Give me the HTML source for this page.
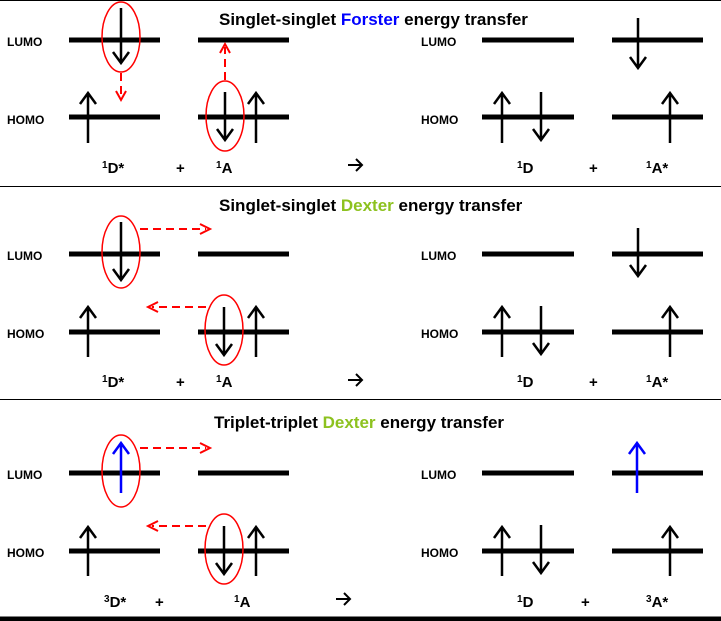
<!DOCTYPE html>
<html><head><meta charset="utf-8"><style>
html,body{margin:0;padding:0;background:#fff;width:721px;height:621px;overflow:hidden}
text{font-family:"Liberation Sans",sans-serif;font-weight:bold}
.l{stroke:#000;stroke-width:5}
.a{stroke:#000;stroke-width:2.5;fill:none}
.b{stroke:#0000ff;stroke-width:2.5;fill:none}
.r{stroke:#ff0000;stroke-width:1.5;fill:none}
.d{stroke:#ff0000;stroke-width:2;fill:none;stroke-dasharray:8,5}
.h{stroke:#ff0000;stroke-width:2;fill:none}
.k{stroke:#000;stroke-width:2;fill:none}
.lb{font-size:12px}
.t{font-size:17px}
.s{font-size:15px}
</style></head><body>
<svg width="721" height="621" xmlns="http://www.w3.org/2000/svg">
<line x1="0" y1="0.5" x2="721" y2="0.5" stroke="#000" stroke-width="1"/>
<line x1="0" y1="186.5" x2="721" y2="186.5" stroke="#000" stroke-width="1"/>
<line x1="0" y1="399.5" x2="721" y2="399.5" stroke="#000" stroke-width="1"/>
<line x1="0" y1="619" x2="721" y2="619" stroke="#000" stroke-width="5"/>

<!-- Panel 1 -->
<text x="219" y="25" class="t">Singlet-singlet <tspan fill="#0000ff">Forster</tspan> energy transfer</text>
<text x="7" y="46" class="lb">LUMO</text><text x="7" y="124" class="lb">HOMO</text>
<text x="421" y="46" class="lb">LUMO</text><text x="421" y="124" class="lb">HOMO</text>
<line class="l" x1="69" y1="40" x2="160" y2="40"/><line class="l" x1="198" y1="40" x2="289" y2="40"/>
<line class="l" x1="69" y1="117" x2="160" y2="117"/><line class="l" x1="198" y1="117" x2="289" y2="117"/>
<line class="l" x1="482" y1="40" x2="574" y2="40"/><line class="l" x1="612" y1="40" x2="703" y2="40"/>
<line class="l" x1="482" y1="117" x2="574" y2="117"/><line class="l" x1="612" y1="117" x2="703" y2="117"/>
<ellipse class="r" cx="121" cy="37" rx="19" ry="35"/>
<path class="a" d="M121 8V63M113 52L121 63L129 52"/>
<line class="d" x1="121" y1="73" x2="121" y2="98"/><path class="h" d="M116 91L121 100L126 91"/>
<path class="a" d="M88 143V93M80 104L88 93L96 104"/>
<ellipse class="r" cx="225" cy="116" rx="19" ry="35"/>
<path class="a" d="M225 92V140M217 129L225 140L233 129"/>
<path class="a" d="M256 143V93M248 104L256 93L264 104"/>
<line class="d" x1="225" y1="80" x2="225" y2="47"/><path class="h" d="M220 53L225 44L230 53"/>
<path class="a" d="M502 143V93M494 104L502 93L510 104"/>
<path class="a" d="M541 92V140M533 129L541 140L549 129"/>
<path class="a" d="M638 18V68M630 57L638 68L646 57"/>
<path class="a" d="M670 143V93M662 104L670 93L678 104"/>
<text x="102" y="173" class="s"><tspan font-size="10" dy="-5">1</tspan><tspan dy="5">D*</tspan></text>
<text x="176" y="173" class="s">+</text>
<text x="216" y="173" class="s"><tspan font-size="10" dy="-5">1</tspan><tspan dy="5">A</tspan></text>
<path class="k" d="M348 165H362M356 159L362 165L356 171"/>
<text x="517" y="173" class="s"><tspan font-size="10" dy="-5">1</tspan><tspan dy="5">D</tspan></text>
<text x="589" y="173" class="s">+</text>
<text x="646" y="173" class="s"><tspan font-size="10" dy="-5">1</tspan><tspan dy="5">A*</tspan></text>

<!-- Panel 2 -->
<text x="219" y="211" class="t">Singlet-singlet <tspan fill="#8dc21f">Dexter</tspan> energy transfer</text>
<text x="7" y="260" class="lb">LUMO</text><text x="7" y="338" class="lb">HOMO</text>
<text x="421" y="260" class="lb">LUMO</text><text x="421" y="338" class="lb">HOMO</text>
<line class="l" x1="69" y1="254" x2="160" y2="254"/><line class="l" x1="198" y1="254" x2="289" y2="254"/>
<line class="l" x1="69" y1="332" x2="160" y2="332"/><line class="l" x1="198" y1="332" x2="289" y2="332"/>
<line class="l" x1="482" y1="254" x2="574" y2="254"/><line class="l" x1="612" y1="254" x2="703" y2="254"/>
<line class="l" x1="482" y1="332" x2="574" y2="332"/><line class="l" x1="612" y1="332" x2="703" y2="332"/>
<ellipse class="r" cx="121" cy="252" rx="19" ry="36"/>
<path class="a" d="M121 222V280M113 269L121 280L129 269"/>
<line class="d" x1="140" y1="229" x2="206" y2="229"/><path class="h" d="M200 224L210 229L200 234"/>
<path class="a" d="M88 357V307M80 318L88 307L96 318"/>
<ellipse class="r" cx="224" cy="330" rx="19" ry="35"/>
<path class="a" d="M224 307V355M216 344L224 355L232 344"/>
<path class="a" d="M256 357V307M248 318L256 307L264 318"/>
<line class="d" x1="206" y1="307" x2="152" y2="307"/><path class="h" d="M158 302L148 307L158 312"/>
<path class="a" d="M502 357V307M494 318L502 307L510 318"/>
<path class="a" d="M541 306V354M533 343L541 354L549 343"/>
<path class="a" d="M638 228V276M630 265L638 276L646 265"/>
<path class="a" d="M670 357V307M662 318L670 307L678 318"/>
<text x="102" y="387" class="s"><tspan font-size="10" dy="-5">1</tspan><tspan dy="5">D*</tspan></text>
<text x="176" y="387" class="s">+</text>
<text x="216" y="387" class="s"><tspan font-size="10" dy="-5">1</tspan><tspan dy="5">A</tspan></text>
<path class="k" d="M348 380H362M356 374L362 380L356 386"/>
<text x="517" y="387" class="s"><tspan font-size="10" dy="-5">1</tspan><tspan dy="5">D</tspan></text>
<text x="589" y="387" class="s">+</text>
<text x="646" y="387" class="s"><tspan font-size="10" dy="-5">1</tspan><tspan dy="5">A*</tspan></text>

<!-- Panel 3 -->
<text x="214" y="428" class="t">Triplet-triplet <tspan fill="#8dc21f">Dexter</tspan> energy transfer</text>
<text x="7" y="479" class="lb">LUMO</text><text x="7" y="557" class="lb">HOMO</text>
<text x="421" y="479" class="lb">LUMO</text><text x="421" y="557" class="lb">HOMO</text>
<line class="l" x1="69" y1="473" x2="160" y2="473"/><line class="l" x1="198" y1="473" x2="289" y2="473"/>
<line class="l" x1="69" y1="551" x2="160" y2="551"/><line class="l" x1="198" y1="551" x2="289" y2="551"/>
<line class="l" x1="482" y1="473" x2="574" y2="473"/><line class="l" x1="612" y1="473" x2="703" y2="473"/>
<line class="l" x1="482" y1="551" x2="574" y2="551"/><line class="l" x1="612" y1="551" x2="703" y2="551"/>
<ellipse class="r" cx="121" cy="471" rx="19" ry="36"/>
<path class="b" d="M121 493V443M113 454L121 443L129 454"/>
<line class="d" x1="140" y1="448" x2="206" y2="448"/><path class="h" d="M200 443L210 448L200 453"/>
<path class="a" d="M88 576V527M80 538L88 527L96 538"/>
<ellipse class="r" cx="224" cy="549" rx="19" ry="35"/>
<path class="a" d="M224 526V574M216 563L224 574L232 563"/>
<path class="a" d="M256 576V527M248 538L256 527L264 538"/>
<line class="d" x1="206" y1="526" x2="152" y2="526"/><path class="h" d="M158 521L148 526L158 531"/>
<path class="a" d="M502 576V527M494 538L502 527L510 538"/>
<path class="a" d="M541 525V573M533 562L541 573L549 562"/>
<path class="b" d="M637 493V443M629 454L637 443L645 454"/>
<path class="a" d="M670 576V527M662 538L670 527L678 538"/>
<text x="104" y="607" class="s"><tspan font-size="10" dy="-5">3</tspan><tspan dy="5">D*</tspan></text>
<text x="155" y="607" class="s">+</text>
<text x="234" y="607" class="s"><tspan font-size="10" dy="-5">1</tspan><tspan dy="5">A</tspan></text>
<path class="k" d="M336 599H350M344 593L350 599L344 605"/>
<text x="517" y="607" class="s"><tspan font-size="10" dy="-5">1</tspan><tspan dy="5">D</tspan></text>
<text x="581" y="607" class="s">+</text>
<text x="646" y="607" class="s"><tspan font-size="10" dy="-5">3</tspan><tspan dy="5">A*</tspan></text>
</svg>
</body></html>
